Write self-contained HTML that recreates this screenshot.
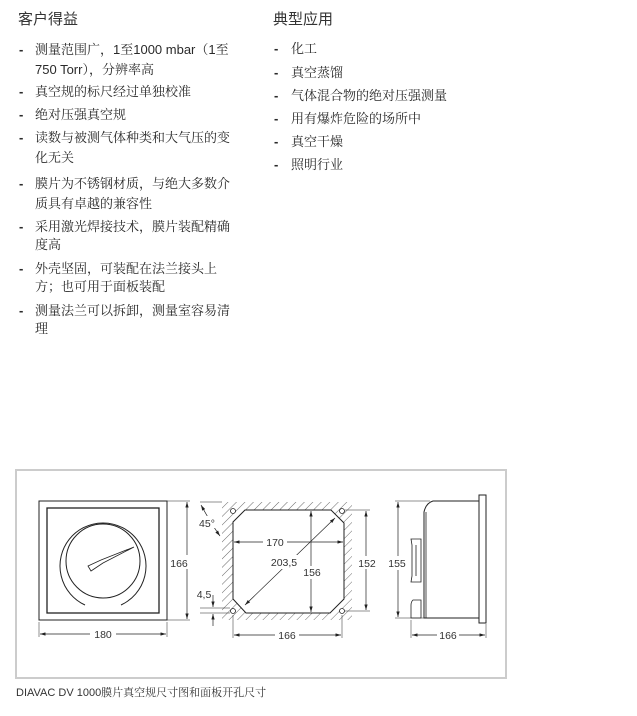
<!DOCTYPE html>
<html><head><meta charset="utf-8"><style>
body{margin:0;width:637px;height:716px;background:#fff;position:relative;overflow:hidden;font-family:"Liberation Sans","Noto Serif CJK SC",serif;color:#2a2a2a;}
.t{position:absolute;font-size:13px;line-height:20px;white-space:nowrap;}
.h{position:absolute;font-size:15px;line-height:20px;white-space:nowrap;color:#333;font-family:"Liberation Sans","Noto Sans CJK SC",sans-serif}
.d{position:absolute;font-size:13px;line-height:20px;font-weight:bold}
</style></head><body>
<div class="h" style="left:18px;top:10px">客户得益</div>
<div class="h" style="left:273px;top:10px">典型应用</div>

<div class="d" style="left:19px;top:40px">-</div><div class="t" style="left:35px;top:40px">测量范围广，1至1000 mbar（1至</div>
<div class="t" style="left:35px;top:60px">750 Torr），分辨率高</div>
<div class="d" style="left:19px;top:82px">-</div><div class="t" style="left:35px;top:82px">真空规的标尺经过单独校准</div>
<div class="d" style="left:19px;top:105px">-</div><div class="t" style="left:35px;top:105px">绝对压强真空规</div>
<div class="d" style="left:19px;top:128px">-</div><div class="t" style="left:35px;top:128px">读数与被测气体种类和大气压的变</div>
<div class="t" style="left:35px;top:148px">化无关</div>
<div class="d" style="left:19px;top:174px">-</div><div class="t" style="left:35px;top:174px">膜片为不锈钢材质，与绝大多数介</div>
<div class="t" style="left:35px;top:194px">质具有卓越的兼容性</div>
<div class="d" style="left:19px;top:217px">-</div><div class="t" style="left:35px;top:217px">采用激光焊接技术，膜片装配精确</div>
<div class="t" style="left:35px;top:235px">度高</div>
<div class="d" style="left:19px;top:259px">-</div><div class="t" style="left:35px;top:259px">外壳坚固，可装配在法兰接头上</div>
<div class="t" style="left:35px;top:277px">方；也可用于面板装配</div>
<div class="d" style="left:19px;top:301px">-</div><div class="t" style="left:35px;top:301px">测量法兰可以拆卸，测量室容易清</div>
<div class="t" style="left:35px;top:319px">理</div>

<div class="d" style="left:274px;top:39px">-</div><div class="t" style="left:291px;top:39px">化工</div>
<div class="d" style="left:274px;top:63px">-</div><div class="t" style="left:291px;top:63px">真空蒸馏</div>
<div class="d" style="left:274px;top:86px">-</div><div class="t" style="left:291px;top:86px">气体混合物的绝对压强测量</div>
<div class="d" style="left:274px;top:109px">-</div><div class="t" style="left:291px;top:109px">用有爆炸危险的场所中</div>
<div class="d" style="left:274px;top:132px">-</div><div class="t" style="left:291px;top:132px">真空干燥</div>
<div class="d" style="left:274px;top:155px">-</div><div class="t" style="left:291px;top:155px">照明行业</div>

<svg style="position:absolute;left:0;top:0" width="637" height="716" font-family="Liberation Sans, sans-serif" font-size="10" fill="none" stroke="#222">
<defs>
<pattern id="hp" width="6" height="6" patternUnits="userSpaceOnUse" patternTransform="rotate(45)"><line x1="0" y1="0" x2="0" y2="6" stroke="#444" stroke-width="0.8"/></pattern>
<marker id="a" viewBox="0 0 10 6" refX="10" refY="3" markerWidth="8" markerHeight="5" orient="auto-start-reverse"><path d="M0,0 L10,3 L0,6z" fill="#222" stroke="none"/></marker>
</defs>
<rect x="16" y="470" width="490" height="208" stroke="#ccc" stroke-width="2"/>
<rect x="39" y="501" width="128" height="119" stroke-width="1"/>
<rect x="47" y="508" width="112" height="105" stroke-width="1.3"/>
<path d="M85,605 A43,43 0 1 1 121,605" stroke-width="1"/>
<circle cx="103" cy="561" r="37" stroke-width="1"/>
<path d="M88,566 L101,560 L134,547 L103,563 L91,571z" stroke-width="0.8"/>
<line x1="167" y1="501" x2="190" y2="501" stroke-width="0.5"/>
<line x1="167" y1="620" x2="190" y2="620" stroke-width="0.5"/>
<line x1="187" y1="502" x2="187" y2="619" stroke-width="0.7" marker-start="url(#a)" marker-end="url(#a)"/>
<line x1="39" y1="622" x2="39" y2="637" stroke-width="0.5"/><line x1="167" y1="622" x2="167" y2="637" stroke-width="0.5"/>
<line x1="40" y1="634" x2="166" y2="634" stroke-width="0.7" marker-start="url(#a)" marker-end="url(#a)"/>
<rect x="90" y="628" width="26" height="12" fill="#fff" stroke="none"/>
<rect x="180" y="555" width="16" height="14" fill="#fff" stroke="none"/>
<g fill="#333" stroke="none" font-size="10.5"><text x="103" y="638" text-anchor="middle">180</text><text x="179" y="567" text-anchor="middle">166</text></g>
<path d="M222,502 H352 V620 H222z M245,510 L233,522 V599 L246,613 H330 L344,599 V523 L331,510z" fill="url(#hp)" fill-rule="evenodd" stroke="none"/>
<path d="M245,510 L233,522 V599 L246,613 H330 L344,599 V523 L331,510z" stroke-width="1"/>
<g stroke-width="0.8"><circle cx="233" cy="511" r="2.5" fill="#fff"/><circle cx="342" cy="511" r="2.5" fill="#fff"/><circle cx="233" cy="611" r="2.5" fill="#fff"/><circle cx="342" cy="611" r="2.5" fill="#fff"/></g>
<line x1="234" y1="542" x2="343" y2="542" stroke-width="0.7" marker-start="url(#a)" marker-end="url(#a)"/>
<line x1="245" y1="605" x2="335" y2="518" stroke-width="0.7" marker-start="url(#a)" marker-end="url(#a)"/>
<line x1="311" y1="511" x2="311" y2="612" stroke-width="0.7" marker-start="url(#a)" marker-end="url(#a)"/>
<line x1="345" y1="510" x2="370" y2="510" stroke-width="0.5"/><line x1="345" y1="611" x2="370" y2="611" stroke-width="0.5"/>
<line x1="366" y1="511" x2="366" y2="610" stroke-width="0.7" marker-start="url(#a)" marker-end="url(#a)"/>
<line x1="233" y1="615" x2="233" y2="638" stroke-width="0.5"/><line x1="342" y1="615" x2="342" y2="638" stroke-width="0.5"/>
<line x1="234" y1="635" x2="341" y2="635" stroke-width="0.7" marker-start="url(#a)" marker-end="url(#a)"/>
<line x1="200" y1="608" x2="230" y2="608" stroke-width="0.5"/><line x1="200" y1="613" x2="230" y2="613" stroke-width="0.5"/>
<line x1="213" y1="595" x2="213" y2="607" stroke-width="0.7" marker-end="url(#a)"/>
<line x1="213" y1="626" x2="213" y2="614" stroke-width="0.7" marker-end="url(#a)"/>
<line x1="200" y1="502" x2="222" y2="502" stroke-width="0.5"/>
<path d="M201,505 Q212,525 220,536" stroke-width="0.7" marker-start="url(#a)" marker-end="url(#a)"/>
<g fill="#fff" stroke="none"><rect x="263" y="536" width="24" height="12"/><rect x="268" y="555" width="32" height="14"/><rect x="302" y="566" width="20" height="13"/><rect x="358" y="556" width="17" height="13"/><rect x="275" y="629" width="24" height="12"/><rect x="200" y="516" width="18" height="12"/></g>
<g fill="#333" stroke="none" font-size="10.5">
<text x="275" y="546" text-anchor="middle">170</text>
<text x="284" y="566" text-anchor="middle">203,5</text>
<text x="312" y="576" text-anchor="middle">156</text>
<text x="367" y="567" text-anchor="middle">152</text>
<text x="287" y="639" text-anchor="middle">166</text>
<text x="204" y="598" text-anchor="middle">4,5</text>
<text x="207" y="527" text-anchor="middle">45°</text>
</g>
<rect x="479" y="495" width="7" height="128" stroke-width="1"/>
<path d="M479,501 H433 Q426,503 424,512 V618 H479" stroke-width="1"/>
<line x1="426" y1="512" x2="426" y2="618" stroke-width="0.8"/>
<path d="M421,539 H411 L412,545 V576 L411,582 H421z M416,545 V576" stroke-width="0.8"/>
<path d="M421,600 H413 Q411,602 411,605 V618 H421z" stroke-width="0.8"/>
<line x1="395" y1="501" x2="430" y2="501" stroke-width="0.5"/><line x1="395" y1="618" x2="424" y2="618" stroke-width="0.5"/>
<line x1="398" y1="502" x2="398" y2="617" stroke-width="0.7" marker-start="url(#a)" marker-end="url(#a)"/>
<line x1="411" y1="620" x2="411" y2="638" stroke-width="0.5"/><line x1="486" y1="624" x2="486" y2="638" stroke-width="0.5"/>
<line x1="412" y1="635" x2="485" y2="635" stroke-width="0.7" marker-start="url(#a)" marker-end="url(#a)"/>
<g fill="#fff" stroke="none"><rect x="389" y="556" width="18" height="14"/><rect x="437" y="629" width="22" height="12"/></g>
<g fill="#333" stroke="none" font-size="10.5"><text x="397" y="567" text-anchor="middle">155</text><text x="448" y="639" text-anchor="middle">166</text></g>
</svg>
<div class="t" style="left:16px;top:683px;font-size:11px;color:#333">DIAVAC DV 1000膜片真空规尺寸图和面板开孔尺寸</div>
</body></html>
